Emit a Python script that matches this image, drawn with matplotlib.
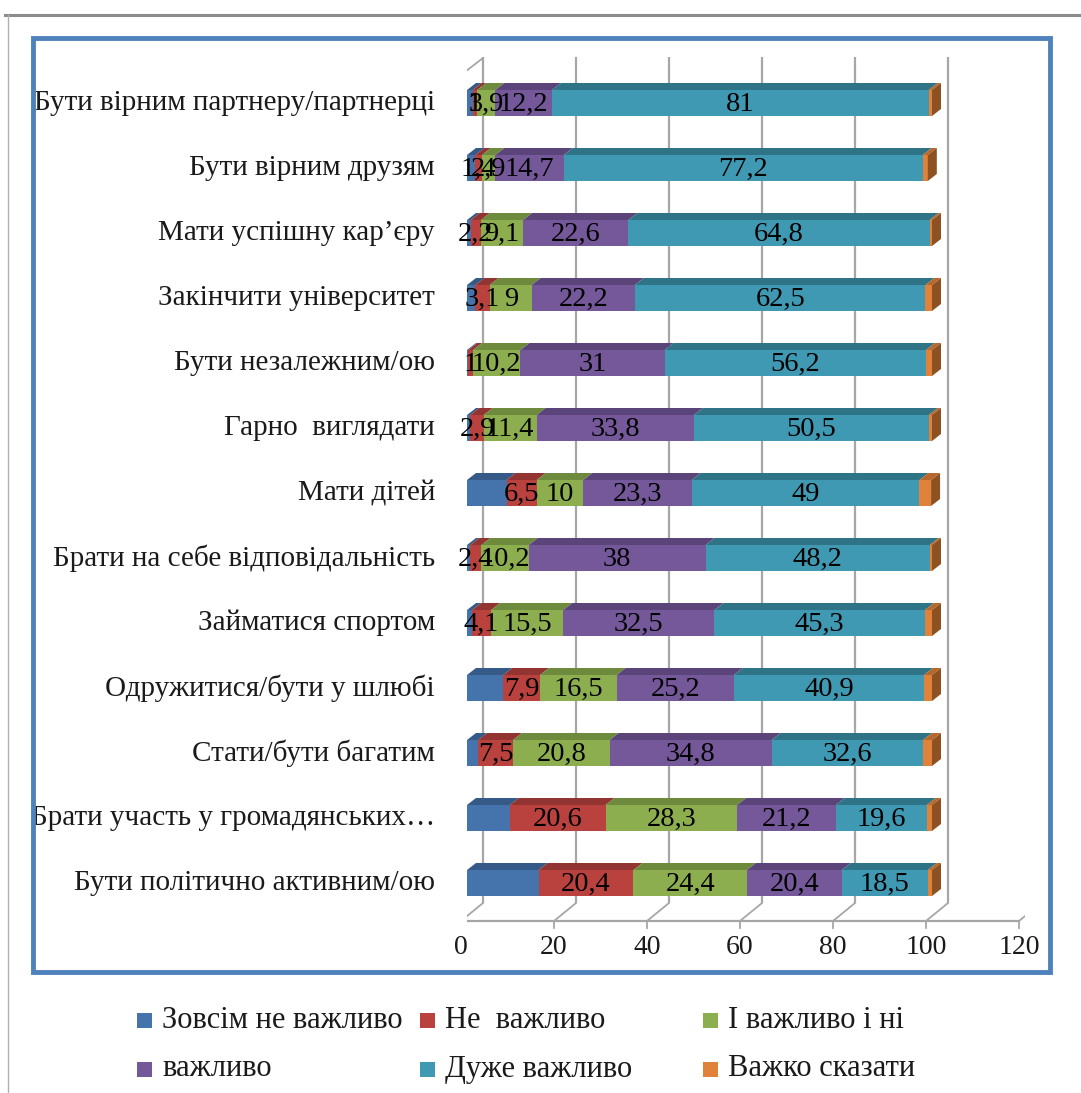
import numpy as np
import matplotlib.pyplot as plt
from matplotlib.patches import Polygon, Rectangle
from matplotlib.lines import Line2D

plt.rcParams['font.family'] = ['Liberation Serif', 'DejaVu Serif']

categories = [
    'Бути вірним партнеру/партнерці',
    'Бути вірним друзям',
    'Мати успішну кар’єру',
    'Закінчити університет',
    'Бути незалежним/ою',
    'Гарно  виглядати',
    'Мати дітей',
    'Брати на себе відповідальність',
    'Займатися спортом',
    'Одружитися/бути у шлюбі',
    'Стати/бути багатим',
    'Брати участь у громадянських…',
    'Бути політично активним/ою',
]
never = [1.2, 1.8, 0.8, 1.8, 0.3, 0.7, 8.5, 0.7, 1.1, 7.8, 2.4, 9.2, 15.4]
not_imp = [1, 1.4, 2.2, 3.1, 1, 2.9, 6.5, 2.4, 4.1, 7.9, 7.5, 20.6, 20.4]
neutral = [3.9, 2.9, 9.1, 9, 10.2, 11.4, 10, 10.2, 15.5, 16.5, 20.8, 28.3, 24.4]
important = [12.2, 14.7, 22.6, 22.2, 31, 33.8, 23.3, 38, 32.5, 25.2, 34.8, 21.2, 20.4]
very = [81, 77.2, 64.8, 62.5, 56.2, 50.5, 49, 48.2, 45.3, 40.9, 32.6, 19.6, 18.5]
hard = [0.7, 1.1, 0.5, 1.4, 1.3, 0.7, 2.5, 0.5, 1.5, 1.7, 1.9, 1.1, 0.9]

series_names = ['Зовсім не важливо', 'Не  важливо', 'І важливо і ні',
                'важливо', 'Дуже важливо', 'Важко сказати']
series = [never, not_imp, neutral, important, very, hard]
labelled = [False, True, True, True, True, False]
face = ['#4573ac', '#b9423e', '#8dae4f', '#74589a', '#4099b2', '#e0823a']
top = ['#355a88', '#923431', '#6e8a3c', '#5a4479', '#2f7486', '#b8682c']
side_col = '#8e5222'
xticks = [0, 20, 40, 60, 80, 100, 120]

W, H = 1081, 1093
fig = plt.figure(figsize=(W / 100, H / 100), dpi=100)

# axes geometry in pixels: x=0 at 467 px, 4.65 px per unit; rows 65 px apart
ppu = 4.65
row_px = 65.0
x0_px, row0_px = 467.0, 103.0
ax_top_px, ax_bot_px = 45.0, 935.0
xmax = 120
ax = fig.add_axes([x0_px / W, 1 - ax_bot_px / H, xmax * ppu / W,
                   (ax_bot_px - ax_top_px) / H])
ax.set_xlim(0, xmax)
ax.set_ylim((ax_bot_px - row0_px) / row_px, (ax_top_px - row0_px) / row_px)
ax.axis('off')


def ypx(p):
    return (p - row0_px) / row_px


def xpx(p):
    return (p - x0_px) / ppu


grid_c = '#a6a6a6'
back_dx = 16 / ppu
front_dx = -6 / ppu
floor_front, floor_back = ypx(921), ypx(903)

# back wall gridlines and floor
for v in xticks:
    ax.plot([v + back_dx] * 2, [ypx(57), floor_back], color=grid_c, lw=1.6,
            zorder=1, solid_capstyle='butt')
    ax.plot([v + front_dx, v + back_dx], [floor_front, floor_back],
            color=grid_c, lw=1.3, zorder=1)
    ax.plot([v + front_dx] * 2, [floor_front, ypx(928)], color=grid_c,
            lw=1.3, zorder=1)
    ax.text(v + front_dx, ypx(947), str(v), ha='center', va='center',
            fontsize=20, color='#1a1a1a', clip_on=False)
ax.plot([xpx(448), xmax + front_dx], [floor_front] * 2, color=grid_c,
        lw=1.6, zorder=1)

# left wall with ticks between rows
ax.plot([front_dx] * 2, [ypx(75), floor_front], color=grid_c, lw=1.6, zorder=1)
ax.plot([front_dx, back_dx], [ypx(75), ypx(58)], color=grid_c, lw=1.3, zorder=1)
for k in range(len(categories)):
    yk = ypx(75 + row_px * k)
    ax.plot([xpx(452), front_dx], [yk, yk], color=grid_c, lw=1.3, zorder=1)

# stacked bars with a shallow 3d look
h = 26 / row_px
dx, dy = 9 / ppu, 7 / row_px
for i in range(len(categories)):
    left = 0.0
    for j, vals in enumerate(series):
        v = vals[i]
        ax.add_patch(Rectangle((left, i - h / 2), v, h, facecolor=face[j],
                               edgecolor='none', zorder=3))
        ax.add_patch(Polygon([(left, i - h / 2), (left + v, i - h / 2),
                              (left + v + dx, i - h / 2 - dy),
                              (left + dx, i - h / 2 - dy)],
                             closed=True, facecolor=top[j], edgecolor='none',
                             zorder=3))
        if labelled[j]:
            txt = f'{v:g}'.replace('.', ',')
            ax.text(left + v / 2, i + 0.02, txt, ha='center', va='center',
                    fontsize=20.5, color='black', zorder=5)
        left += v
    ax.add_patch(Polygon([(left, i - h / 2), (left, i + h / 2),
                          (left + dx, i + h / 2 - dy),
                          (left + dx, i - h / 2 - dy)],
                         closed=True, facecolor=side_col, edgecolor='none',
                         zorder=3))
    ax.text(xpx(435), i, categories[i], ha='right', va='center',
            fontsize=21, color='#1a1a1a', clip_on=False)

# page frame lines and the blue chart border
fig.add_artist(Line2D([5 / W, 1], [1 - 15 / H] * 2, color='#8c8c8c', lw=2.2))
fig.add_artist(Line2D([8 / W] * 2, [0, 1 - 15 / H], color='#b0b0b0', lw=1))
fig.add_artist(Rectangle((33 / W, 1 - 972 / H), (1050 - 33) / W,
                         (972 - 38) / H, fill=False, edgecolor='#4f81bd',
                         lw=3.5))

# legend: two rows of three entries
leg_x = [137, 420, 703]
leg_y = [1020, 1069]
sq = 15
for k, name in enumerate(series_names):
    cx = leg_x[k % 3]
    cy = leg_y[k // 3]
    fig.add_artist(Rectangle((cx / W, 1 - (cy + sq / 2) / H), sq / W, sq / H,
                             facecolor=face[k], edgecolor='none'))
    fig.text((cx + 25) / W, 1 - cy / H, name, ha='left', va='center',
             fontsize=22, family='Liberation Serif', color='#1a1a1a')

fig.savefig('out.png', dpi=100, facecolor='white')
